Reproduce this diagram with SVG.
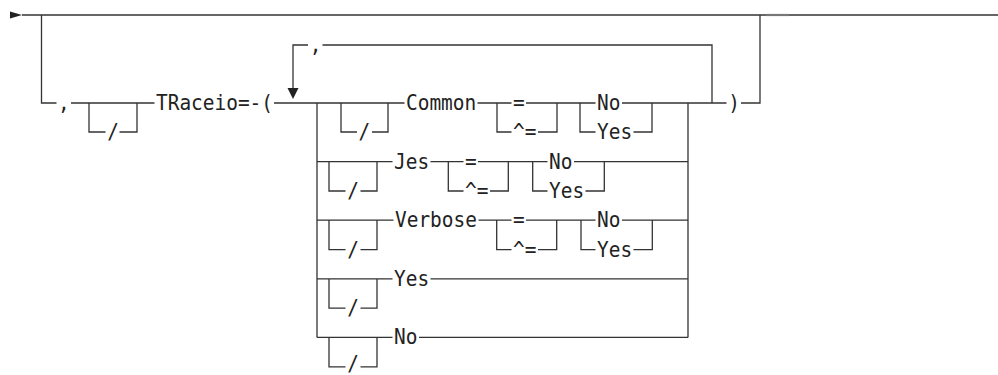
<svg xmlns="http://www.w3.org/2000/svg" width="998" height="375" viewBox="0 0 998 375">
<style>
.l{fill:none;stroke:#333;stroke-width:1.3}
.t{font-family:"DejaVu Sans Mono","Liberation Mono",monospace;font-size:21px;fill:#222}
.a{fill:#222}
</style>
<rect width="998" height="375" fill="#fff"/>
<g id="connectors">
<polygon class="a" points="10,11.5 22,15 10,18.5"/>
<path class="l" d="M22 15H998"/>
<path d="M766 15H789" stroke="#777" stroke-width="2.2" fill="none"/>
<path class="l" d="M41.5 15V103H56.5M71 103H154.5M89 103V132H105.5M119.5 132H137V103"/>
<path class="l" d="M274 103H404.5M477.5 103H511.5M526 103H595.5M622 103H726.5M741 103H760V15"/>
<path class="l" d="M293 88V45H308M322.5 45H712V103"/>
<polygon class="a" points="287.5,88 298.5,88 293,99"/>
<path class="l" d="M317 103V337.4M688 103V337.4"/>
<path class="l" d="M341 103V132H357M372 132H388V103M497 103V132H511.5M538 132H557V103M580 103V132H595.5M633.5 132H652V103"/>
<path class="l" d="M317 161.6H392.5M430.5 161.6H463.5M478 161.6H547.5M574 161.6H688M329 161.6V191H345.5M360.5 191H377V161.6M448.3 161.6V191H463.5M490 191H508.3V161.6M532.7 161.6V191H547.5M585.5 191H604.3V161.6"/>
<path class="l" d="M317 220.2H393.5M478.5 220.2H511.5M526 220.2H595.5M622 220.2H688M329 220.2V249.6H345.5M360.5 249.6H377V220.2M496.7 220.2V249.6H511.5M538 249.6H556.7V220.2M581 220.2V249.6H595.5M633.5 249.6H652.3V220.2"/>
<path class="l" d="M317 278.8H392.5M430.5 278.8H688M329 278.8V308.2H345.5M360.5 308.2H377V278.8"/>
<path class="l" d="M317 337.4H392.5M419 337.4H688M329 337.4V366.8H345.5M360.5 366.8H377V337.4"/>
</g>
<g id="n-sep"><text class="t" x="58" y="110" textLength="11.7" lengthAdjust="spacingAndGlyphs">,</text></g>
<g id="n-slash0"><text class="t" x="107.2" y="139" textLength="11.7" lengthAdjust="spacingAndGlyphs">/</text></g>
<g id="n-traceio"><text class="t" x="156" y="110" textLength="117" lengthAdjust="spacingAndGlyphs">TRaceio=-(</text></g>
<g id="n-repsep"><text class="t" x="309.7" y="52" textLength="11.7" lengthAdjust="spacingAndGlyphs">,</text></g>
<g id="n-close"><text class="t" x="728.2" y="110" textLength="11.7" lengthAdjust="spacingAndGlyphs">)</text></g>
<g id="n-common">
<text class="t" x="358.6" y="139" textLength="11.7" lengthAdjust="spacingAndGlyphs">/</text>
<text class="t" x="406" y="110" textLength="70.2" lengthAdjust="spacingAndGlyphs">Common</text>
<text class="t" x="513" y="110" textLength="11.7" lengthAdjust="spacingAndGlyphs">=</text>
<text class="t" x="513" y="139" textLength="23.4" lengthAdjust="spacingAndGlyphs">^=</text>
<text class="t" x="597" y="110" textLength="23.4" lengthAdjust="spacingAndGlyphs">No</text>
<text class="t" x="597" y="139" textLength="35.1" lengthAdjust="spacingAndGlyphs">Yes</text>
</g>
<g id="n-jes">
<text class="t" x="347.2" y="198" textLength="11.7" lengthAdjust="spacingAndGlyphs">/</text>
<text class="t" x="394" y="168.6" textLength="35.1" lengthAdjust="spacingAndGlyphs">Jes</text>
<text class="t" x="465" y="168.6" textLength="11.7" lengthAdjust="spacingAndGlyphs">=</text>
<text class="t" x="465" y="198" textLength="23.4" lengthAdjust="spacingAndGlyphs">^=</text>
<text class="t" x="549" y="168.6" textLength="23.4" lengthAdjust="spacingAndGlyphs">No</text>
<text class="t" x="549" y="198" textLength="35.1" lengthAdjust="spacingAndGlyphs">Yes</text>
</g>
<g id="n-verbose">
<text class="t" x="347.2" y="256.6" textLength="11.7" lengthAdjust="spacingAndGlyphs">/</text>
<text class="t" x="395" y="227.2" textLength="81.9" lengthAdjust="spacingAndGlyphs">Verbose</text>
<text class="t" x="513" y="227.2" textLength="11.7" lengthAdjust="spacingAndGlyphs">=</text>
<text class="t" x="513" y="256.6" textLength="23.4" lengthAdjust="spacingAndGlyphs">^=</text>
<text class="t" x="597" y="227.2" textLength="23.4" lengthAdjust="spacingAndGlyphs">No</text>
<text class="t" x="597" y="256.6" textLength="35.1" lengthAdjust="spacingAndGlyphs">Yes</text>
</g>
<g id="n-yes">
<text class="t" x="347.2" y="315.2" textLength="11.7" lengthAdjust="spacingAndGlyphs">/</text>
<text class="t" x="394" y="285.8" textLength="35.1" lengthAdjust="spacingAndGlyphs">Yes</text>
</g>
<g id="n-no">
<text class="t" x="347.2" y="371" textLength="11.7" lengthAdjust="spacingAndGlyphs">/</text>
<text class="t" x="394" y="344.4" textLength="23.4" lengthAdjust="spacingAndGlyphs">No</text>
</g>
</svg>
